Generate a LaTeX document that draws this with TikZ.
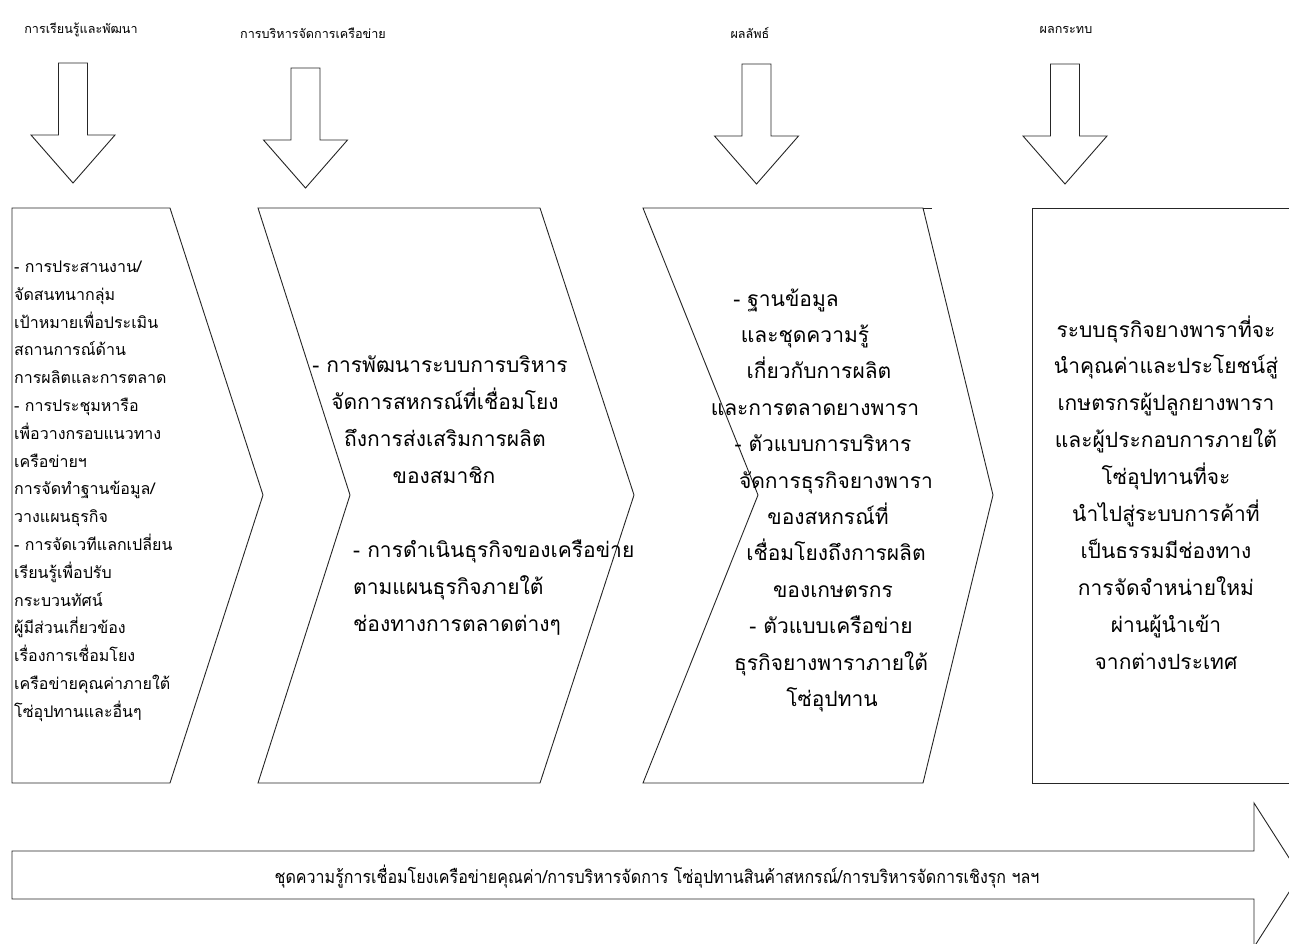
\documentclass[tikz,border=0pt]{standalone}
\usepackage{fontspec}
\newfontfamily\thaifont[Script=Thai]{Loma}
\newfontfamily\thaicond[Script=Thai,FakeStretch=0.89]{Loma}
\begin{document}
\begin{tikzpicture}[x=1pt,y=-1pt,
  outline/.style={draw=black!85, line width=0.9pt, line join=miter, fill=white},
  ttl/.style={font=\thaifont\fontsize{12.6}{15}\selectfont, inner sep=0pt, anchor=base},
  smalltxt/.style={font=\thaifont\fontsize{16}{18}\selectfont, inner sep=0pt, anchor=base west},
  bigtxt/.style={font=\thaifont\fontsize{21}{24}\selectfont, inner sep=0pt, anchor=base},
  bartxt/.style={font=\thaicond\fontsize{18}{20}\selectfont, inner sep=0pt},
  downarrow/.pic={
    \draw[outline] (-14.5,0) -- (14.5,0) -- (14.5,72) -- (42,72) -- (0,120)
      -- (-42,72) -- (-14.5,72) -- cycle;
  }
]
\useasboundingbox (0,0) rectangle (1289,943);
\clip (0,0) rectangle (1289,943);
\fill[white] (0,0) rectangle (1289,943);

% column headings
\node[ttl] (h1) at (81,33) {การเรียนรู้และพัฒนา};
\node[ttl] (h2) at (313,38) {การบริหารจัดการเครือข่าย};
\node[ttl] (h3) at (750,38) {ผลลัพธ์};
\node[ttl] (h4) at (1066,33) {ผลกระทบ};

% block arrows under the headings
\pic at (73,63) {downarrow};
\pic at (305.5,68) {downarrow};
\pic at (756.5,64) {downarrow};
\pic at (1065,64) {downarrow};

% stage shapes
\draw[outline] (12,208) -- (170,208) -- (263,495) -- (170,783) -- (12,783) -- cycle;
\draw[outline] (258,208) -- (540,208) -- (634,495) -- (540,783) -- (258,783) -- (350,495) -- cycle;
\draw[outline] (643,208) -- (923,208) -- (993,495) -- (923,783) -- (643,783) -- (758,495) -- cycle;
\draw[outline] (923,208) -- (932,208);
\draw[outline] (1032,208) rectangle (1300,783);

% long arrow along the bottom
\draw[outline] (12,851) -- (1254,851) -- (1254,803) -- (1300,875) -- (1254,947)
  -- (1254,899) -- (12,899) -- cycle;
\node[bartxt] (kb) at (657,877) {ชุดความรู้การเชื่อมโยงเครือข่ายคุณค่า/การบริหารจัดการ โซ่อุปทานสินค้าสหกรณ์/การบริหารจัดการเชิงรุก ฯลฯ};

% stage 1 text
\foreach \t [count=\i] in {{- การประสานงาน/},{จัดสนทนากลุ่ม},{เป้าหมายเพื่อประเมิน},
  {สถานการณ์ด้าน},{การผลิตและการตลาด},{- การประชุมหารือ},{เพื่อวางกรอบแนวทาง},
  {เครือข่ายฯ},{การจัดทำฐานข้อมูล/},{วางแผนธุรกิจ},{- การจัดเวทีแลกเปลี่ยน},
  {เรียนรู้เพื่อปรับ},{กระบวนทัศน์},{ผู้มีส่วนเกี่ยวข้อง},{เรื่องการเชื่อมโยง},
  {เครือข่ายคุณค่าภายใต้},{โซ่อุปทานและอื่นๆ}}
  \node[smalltxt] (s1-\i) at (14,{268+27.8*(\i-1)+4.5}) {\t};

% stage 2 text
\foreach \x/\t [count=\i] in {440/{- การพัฒนาระบบการบริหาร},445/{จัดการสหกรณ์ที่เชื่อมโยง},
  445/{ถึงการส่งเสริมการผลิต},444/{ของสมาชิก}}
  \node[bigtxt] (s2a-\i) at (\x,{366+37*(\i-1)+6}) {\t};
\foreach \t [count=\i] in {{- การดำเนินธุรกิจของเครือข่าย},{ตามแผนธุรกิจภายใต้},{ช่องทางการตลาดต่างๆ}}
  \node[bigtxt,anchor=base west] (s2b-\i) at (353,{551+37*(\i-1)+6}) {\t};

% stage 3 text
\foreach \x/\t [count=\i] in {786/{- ฐานข้อมูล},805/{และชุดความรู้},819/{เกี่ยวกับการผลิต},
  815/{และการตลาดยางพารา},823/{- ตัวแบบการบริหาร},836/{จัดการธุรกิจยางพารา},
  828/{ของสหกรณ์ที่},836/{เชื่อมโยงถึงการผลิต},833/{ของเกษตรกร},
  831/{- ตัวแบบเครือข่าย},831/{ธุรกิจยางพาราภายใต้},832/{โซ่อุปทาน}}
  \node[bigtxt] (s3-\i) at (\x,{300+36.4*(\i-1)+6}) {\t};

% stage 4 text
\foreach \t [count=\i] in {{ระบบธุรกิจยางพาราที่จะ},{นำคุณค่าและประโยชน์สู่},
  {เกษตรกรผู้ปลูกยางพารา},{และผู้ประกอบการภายใต้},{โซ่อุปทานที่จะ},
  {นำไปสู่ระบบการค้าที่},{เป็นธรรมมีช่องทาง},{การจัดจำหน่ายใหม่},
  {ผ่านผู้นำเข้า},{จากต่างประเทศ}}
  \node[bigtxt] (s4-\i) at (1166,{331+36.9*(\i-1)+6}) {\t};
\end{tikzpicture}
\end{document}
